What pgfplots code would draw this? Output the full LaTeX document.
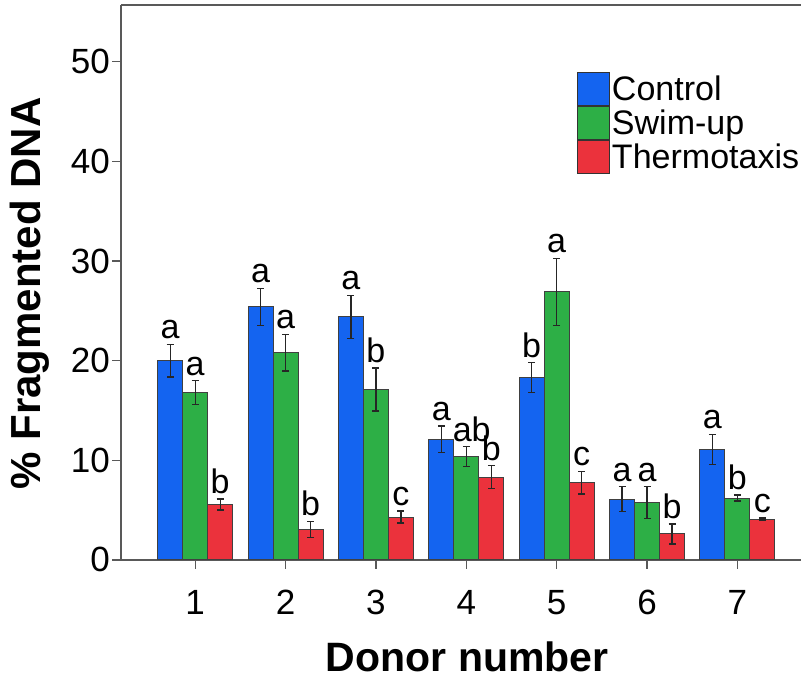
\documentclass[border=0pt]{standalone}
\usepackage{pgfplots}
\pgfplotsset{compat=1.18}
\usepackage{pgfplotstable}
\usepackage{fontspec}
\setmainfont{Liberation Sans}
\definecolor{cblue}{RGB}{20,100,240}
\definecolor{cgreen}{RGB}{45,175,70}
\definecolor{cred}{RGB}{235,50,60}
\pgfplotstableread{
x y e
1 20.0 1.65
2 25.4 1.85
3 24.4 2.15
4 12.1 1.35
5 18.3 1.5
6 6.1 1.25
7 11.1 1.5
}\control
\pgfplotstableread{
x y e
1 16.8 1.2
2 20.8 1.85
3 17.1 2.15
4 10.35 1.0
5 26.9 3.35
6 5.75 1.6
7 6.2 0.3
}\swim
\pgfplotstableread{
x y e
1 5.55 0.55
2 3.05 0.8
3 4.3 0.6
4 8.3 1.15
5 7.75 1.15
6 2.6 1.0
7 4.1 0.1
}\thermo
\begin{document}
\begin{tikzpicture}
\begin{axis}[
  scale only axis,
  width=681pt, height=554.5pt,
  xmin=0.18, xmax=7.72,
  ymin=0, ymax=55.7,
  xtick={1,...,7},
  ytick={0,10,...,50},
  axis x line*=bottom, axis y line*=left,
  axis line style={black!65, line width=1.3pt},
  tick style={black!65, line width=1.3pt},
  tick align=outside,
  major tick length=9pt,
  /pgf/number format/assume math mode=true,
  ticklabel style={font=\fontsize{35}{40}\selectfont},
  yticklabel style={inner sep=2pt},
  xticklabel style={inner sep=0pt, yshift=-21pt},
  xlabel={\textbf{Donor number}},
  ylabel={\textbf{\% Fragmented DNA}},
  xlabel style={font=\fontsize{41}{46}\selectfont, inner sep=0pt, at={(axis description cs:0.508,0)}, anchor=base, yshift=-112pt},
  ylabel style={font=\fontsize{42}{46}\selectfont, inner sep=0pt, at={(axis description cs:-0.134,0.48)}, anchor=center},
  bar width=0.2765,
  legend style={at={(axis description cs:0.664,0.883)}, anchor=north west, draw=none, fill=none,
    font=\fontsize{34}{38}\selectfont, row sep=0pt, nodes={inner sep=2.2pt}},
  legend cell align=left,
  legend image code/.code={\draw[#1, draw=black!80, line width=1pt] (0pt,-17pt) rectangle (32pt,16pt);},
  every node near coord/.append style={font=\fontsize{34}{38}\selectfont, inner sep=0pt, anchor=south, yshift=5pt, black},
  error bars/error bar style={black!85, line width=1.3pt},
  error bars/error mark options={rotate=90, black!85, mark size=3.5pt, line width=1.3pt},
]
\addplot[ybar, bar shift=0, fill=cblue, draw=black!75, line width=1pt,
  error bars/.cd, y dir=both, y explicit]
  table[x expr=\thisrow{x}-0.2765, y=y, y error=e] {\control};
\addlegendentry{Control}
\addplot[ybar, bar shift=0, fill=cgreen, draw=black!75, line width=1pt,
  error bars/.cd, y dir=both, y explicit]
  table[x=x, y=y, y error=e] {\swim};
\addlegendentry{Swim-up}
\addplot[ybar, bar shift=0, fill=cred, draw=black!75, line width=1pt,
  error bars/.cd, y dir=both, y explicit]
  table[x expr=\thisrow{x}+0.2765, y=y, y error=e] {\thermo};
\addlegendentry{Thermotaxis}
\addplot[ybar, bar shift=0, draw=none, fill=none, forget plot,
  nodes near coords, point meta=explicit symbolic]
  coordinates {(0.7235,21.65)[a] (1.7235,27.25)[a] (2.7235,26.55)[a] (3.7235,13.45)[a] (4.7235,19.8)[b] (5.7235,7.35)[a] (6.7235,12.6)[a]};
\addplot[ybar, bar shift=0, draw=none, fill=none, forget plot,
  nodes near coords, point meta=explicit symbolic]
  coordinates {(1,18.0)[a] (2,22.65)[a] (3,19.25)[b] (4.06,11.35)[ab] (5,30.25)[a] (6,7.35)[a] (7,6.5)[b]};
\addplot[ybar, bar shift=0, draw=none, fill=none, forget plot,
  nodes near coords, point meta=explicit symbolic]
  coordinates {(1.2765,6.1)[b] (2.2765,3.85)[b] (3.2765,4.9)[c] (4.2765,9.45)[b] (5.2765,8.9)[c] (6.2765,3.6)[b] (7.2765,4.2)[c]};
\draw[black!65, line width=1.3pt] (rel axis cs:0,1) -- (rel axis cs:1,1);
\end{axis}
\pgfresetboundingbox
\path ([shift={(-121pt,-120.5pt)}]current axis.south west) rectangle ([shift={(-1.5pt,5pt)}]current axis.north east);
\end{tikzpicture}
\end{document}
